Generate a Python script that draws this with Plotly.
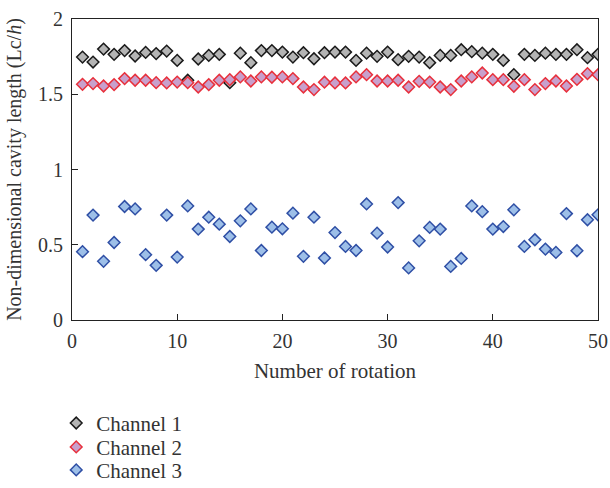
import plotly.graph_objects as go

rotation = list(range(1, 51))

channel1 = [1.747, 1.714, 1.80, 1.765, 1.79, 1.754, 1.778, 1.77, 1.787, 1.725,
            1.593, 1.734, 1.758, 1.765, 1.577, 1.773, 1.71, 1.79, 1.79, 1.78,
            1.747, 1.776, 1.736, 1.776, 1.78, 1.78, 1.725, 1.773, 1.752, 1.78,
            1.73, 1.752, 1.747, 1.71, 1.758, 1.758, 1.796, 1.783, 1.773, 1.765,
            1.725, 1.63, 1.765, 1.758, 1.773, 1.765, 1.765, 1.796, 1.743, 1.765]

channel2 = [1.566, 1.571, 1.555, 1.564, 1.604, 1.593, 1.593, 1.577, 1.575, 1.581,
            1.577, 1.548, 1.564, 1.593, 1.597, 1.615, 1.588, 1.615, 1.613, 1.615,
            1.604, 1.548, 1.531, 1.58, 1.575, 1.575, 1.615, 1.63, 1.588, 1.588,
            1.593, 1.548, 1.586, 1.581, 1.548, 1.531, 1.588, 1.615, 1.641, 1.597,
            1.597, 1.553, 1.597, 1.531, 1.571, 1.588, 1.555, 1.599, 1.637, 1.63]

channel3 = [0.454, 0.697, 0.39, 0.515, 0.754, 0.738, 0.434, 0.363, 0.697, 0.418,
            0.758, 0.604, 0.683, 0.637, 0.555, 0.659, 0.738, 0.462, 0.617, 0.606,
            0.71, 0.423, 0.683, 0.412, 0.581, 0.489, 0.462, 0.771, 0.577, 0.485,
            0.78, 0.346, 0.526, 0.615, 0.604, 0.356, 0.409, 0.758, 0.72, 0.604,
            0.621, 0.732, 0.489, 0.533, 0.471, 0.449, 0.707, 0.46, 0.666, 0.699]

x_ticks = [0, 10, 20, 30, 40, 50]
y_ticks = [0, 0.5, 1, 1.5, 2]
y_tick_labels = ["0", "0.5", "1", "1.5", "2"]

FONT = "Liberation Serif, Times New Roman, serif"
FS = 20
TXT = "#333"

fig = go.Figure()
series = [
    ("Channel 1", channel1, "#b4b4b4", "#1a1a1a", "legend"),
    ("Channel 2", channel2, "#c8a0cc", "#e8303c", "legend2"),
    ("Channel 3", channel3, "#9dbfe8", "#2f4fa5", "legend3"),
]
for name, vals, fill, edge, lg in series:
    fig.add_trace(go.Scatter(
        x=rotation, y=vals, mode="markers", name=name, legend=lg,
        marker=dict(symbol="diamond", size=9, color=fill,
                    line=dict(color=edge, width=1.5)),
    ))

axis_common = dict(
    showline=True, linecolor="#222", linewidth=1.2, mirror=True,
    ticks="inside", ticklen=6, tickcolor="#222", tickwidth=1.2,
    showgrid=False, zeroline=False, automargin=False,
    tickfont=dict(family=FONT, size=FS, color=TXT),
)

plot_top, plot_bottom = 19, 320.5


def legend_at(row_y):
    return dict(x=-0.03, y=(plot_bottom - row_y) / (plot_bottom - plot_top),
                xanchor="left", yanchor="middle",
                bgcolor="rgba(0,0,0,0)",
                font=dict(family=FONT, size=21, color=TXT))


fig.update_layout(
    width=610, height=488,
    margin=dict(l=72, r=12, t=19, b=168, autoexpand=False),
    paper_bgcolor="white", plot_bgcolor="white",
    font=dict(family=FONT, size=FS, color=TXT),
    xaxis=dict(range=[0, 50], tickvals=x_ticks, ticklabelstandoff=3,
               title=dict(text="Number of rotation", standoff=12,
                          font=dict(family=FONT, size=21, color=TXT)),
               **axis_common),
    yaxis=dict(range=[0, 2], tickvals=y_ticks, ticktext=y_tick_labels,
               ticklabelstandoff=4,
               title=dict(text="Non-dimensional cavity length (Lc/<i>h</i>)", standoff=10,
                          font=dict(family=FONT, size=FS, color=TXT)),
               **axis_common),
    showlegend=True,
    legend=legend_at(424),
    legend2=legend_at(448),
    legend3=legend_at(471),
)

fig.write_html("out.html")
